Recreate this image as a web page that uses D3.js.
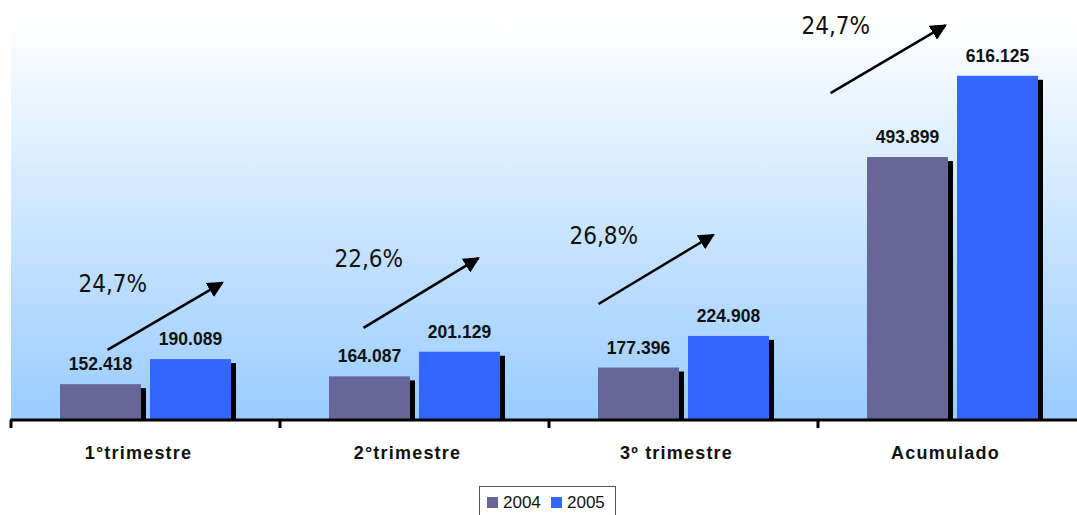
<!DOCTYPE html>
<html>
<head>
<meta charset="utf-8">
<script src="https://cdn.jsdelivr.net/npm/d3@7"></script>
<style>
  body { margin: 0; background: #fff; }
  svg { display: block; }
</style>
</head>
<body>
<script>
const categories = ["1°trimestre", "2°trimestre", "3º trimestre", "Acumulado"];
const series = ["2004", "2005"];
const values2004 = [152418, 164087, 177396, 493899];
const values2005 = [190089, 201129, 224908, 616125];
const growth = ["24,7%", "22,6%", "26,8%", "24,7%"];
// arrow anchors in data units (start / end of each arrow)
const arrowFrom = [204000, 237000, 273000, 590000];
const arrowTo = [305000, 342000, 377000, 692000];
// horizontal shift of each arrow from its category centre
const arrowShift = [-38, -51, -85, -122];

const W = 1077, H = 515;
const plot = {left: 11, top: 20, right: 1077, bottom: 419};
const colors = {"2004": "#666699", "2005": "#3366ff"};

const svg = d3.select("body").append("svg")
  .attr("width", W)
  .attr("height", H);

const defs = svg.append("defs");
const grad = defs.append("linearGradient")
  .attr("id", "bg")
  .attr("x1", 0).attr("y1", 0).attr("x2", 0).attr("y2", 1);
grad.append("stop").attr("offset", "0%").attr("stop-color", "#ffffff");
grad.append("stop").attr("offset", "100%").attr("stop-color", "#99ccff");

defs.append("marker")
  .attr("id", "head")
  .attr("viewBox", "0 0 10 10")
  .attr("refX", 9).attr("refY", 5)
  .attr("markerWidth", 6.5).attr("markerHeight", 6.5)
  .attr("markerUnits", "strokeWidth")
  .attr("orient", "auto")
  .append("path")
  .attr("d", "M0,0 L10,5 L0,10 Z")
  .attr("fill", "#000");

svg.append("rect")
  .attr("x", plot.left)
  .attr("y", plot.top)
  .attr("width", plot.right - plot.left)
  .attr("height", plot.bottom - plot.top)
  .attr("fill", "url(#bg)");

const x0 = d3.scaleBand()
  .domain(categories)
  .range([plot.left, plot.left + 269 * 4])
  .padding(0);

const y = d3.scaleLinear()
  .domain([100000, 700000])
  .range([plot.bottom, plot.top]);

const x1 = d3.scaleBand()
  .domain(series)
  .range([x0.bandwidth() / 2 - 85.5, x0.bandwidth() / 2 + 85.5])
  .paddingInner(0.1);

const data = categories.map((c, i) => ({
  cat: c,
  vals: [
    {key: "2004", value: values2004[i]},
    {key: "2005", value: values2005[i]}
  ]
}));

const groups = svg.selectAll("g.cat")
  .data(data)
  .join("g")
  .attr("class", "cat")
  .attr("transform", d => `translate(${x0(d.cat)},0)`);

// shadows
groups.selectAll("rect.shadow")
  .data(d => d.vals)
  .join("rect")
  .attr("class", "shadow")
  .attr("x", d => x1(d.key) + 5)
  .attr("y", d => y(d.value) + 4)
  .attr("width", x1.bandwidth())
  .attr("height", d => plot.bottom - y(d.value) - 4)
  .attr("fill", "#000");

groups.selectAll("rect.bar")
  .data(d => d.vals)
  .join("rect")
  .attr("class", "bar")
  .attr("x", d => x1(d.key))
  .attr("y", d => y(d.value))
  .attr("width", x1.bandwidth())
  .attr("height", d => plot.bottom - y(d.value))
  .attr("fill", d => colors[d.key]);

const fmt = v => d3.format(",")(v).replace(/,/g, ".");

groups.selectAll("text.val")
  .data(d => d.vals)
  .join("text")
  .attr("class", "val")
  .attr("x", d => x1(d.key) + x1.bandwidth() / 2)
  .attr("y", d => y(d.value) - 14)
  .attr("text-anchor", "middle")
  .style("font-family", "'Liberation Sans', Arial, sans-serif")
  .style("font-weight", "bold")
  .style("font-size", "17.5px")
  .style("fill", "#111")
  .text(d => fmt(d.value));

// axis
const axis = svg.append("g")
  .attr("transform", `translate(0,${plot.bottom + 1})`);
axis.append("line")
  .attr("x1", plot.left - 1).attr("x2", W)
  .attr("stroke", "#000").attr("stroke-width", 3);
axis.selectAll(".sep")
  .data(categories)
  .join("line")
  .attr("class", "sep")
  .attr("x1", d => x0(d)).attr("x2", d => x0(d))
  .attr("y1", 0).attr("y2", 8)
  .attr("stroke", "#000").attr("stroke-width", 3);

svg.selectAll("text.catlabel")
  .data(categories)
  .join("text")
  .attr("class", "catlabel")
  .attr("x", d => x0(d) + x0.bandwidth() / 2 - 7)
  .attr("y", 459)
  .attr("text-anchor", "middle")
  .style("font-family", "'Liberation Sans', Arial, sans-serif")
  .style("font-weight", "bold")
  .style("font-size", "18px")
  .style("letter-spacing", "1.2px")
  .style("fill", "#111")
  .text(d => d);

// growth arrows
const ann = svg.selectAll("g.ann")
  .data(categories)
  .join("g")
  .attr("class", "ann")
  .attr("transform", (d, i) => `translate(${x0(d) + x0.bandwidth() / 2 + arrowShift[i]},0)`);

ann.append("line")
  .attr("x1", 0)
  .attr("y1", (d, i) => y(arrowFrom[i]))
  .attr("x2", 115)
  .attr("y2", (d, i) => y(arrowTo[i]))
  .attr("stroke", "#000")
  .attr("stroke-width", 2.5)
  .attr("marker-end", "url(#head)");

ann.append("text")
  .attr("x", -29)
  .attr("y", (d, i) => y(arrowTo[i]) + 9)
  .style("font-family", "'DejaVu Sans Condensed', 'DejaVu Sans', sans-serif")
  .style("font-stretch", "condensed")
  .style("font-size", "24px")
  .style("fill", "#111")
  .text((d, i) => growth[i]);

// legend
const leg = svg.append("g").attr("transform", "translate(479,486)");
leg.append("rect")
  .attr("x", 0.5).attr("y", 0.5)
  .attr("width", 136).attr("height", 32)
  .attr("fill", "#fff")
  .attr("stroke", "#555");
const li = leg.selectAll("g.li")
  .data(series)
  .join("g")
  .attr("class", "li")
  .attr("transform", (d, i) => `translate(${8 + i * 64},0)`);
li.append("rect")
  .attr("x", 0).attr("y", 11)
  .attr("width", 11).attr("height", 11)
  .attr("fill", d => colors[d]);
li.append("text")
  .attr("x", 16).attr("y", 22)
  .style("font-family", "'Liberation Sans', Arial, sans-serif")
  .style("font-size", "17px")
  .style("fill", "#111")
  .text(d => d);
</script>
</body>
</html>
